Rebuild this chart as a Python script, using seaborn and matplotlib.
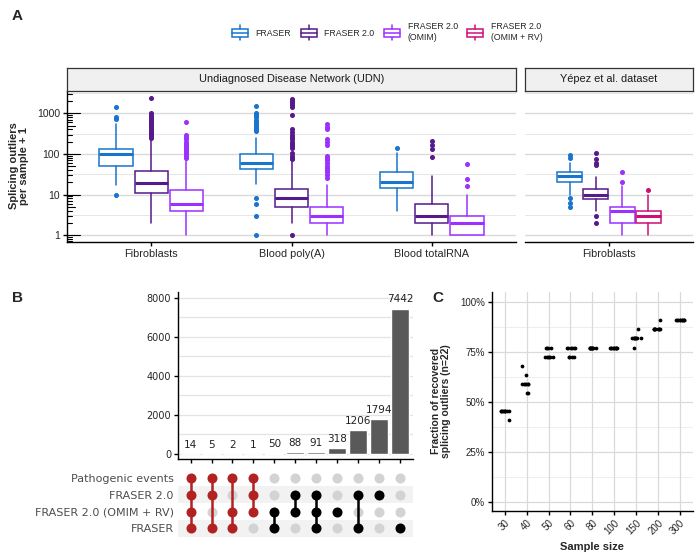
import numpy as np
import pandas as pd
import matplotlib
matplotlib.use("Agg")
import matplotlib.pyplot as plt
import matplotlib.transforms as mtransforms
import seaborn as sns
from matplotlib.legend_handler import HandlerBase
from matplotlib.patches import Rectangle, Patch
from matplotlib.lines import Line2D

# ---------------- panel A: box summaries ----------------
methods = ["FRASER", "FRASER 2.0", "FRASER 2.0\n(OMIM)", "FRASER 2.0\n(OMIM + RV)"]
method_colors = ["#1874CD", "#551A8B", "#9B30FF", "#CD1076"]

udn_tissues = ["Fibroblasts", "Blood poly(A)", "Blood totalRNA"]
yepez_tissues = ["Fibroblasts"]

# rows = tissue, cols = FRASER, FRASER 2.0, FRASER 2.0 (OMIM)
udn_med = [[100, 19, 6], [59, 8, 3], [20, 3, 2]]
udn_q1 = [[50, 11, 4], [42, 5, 2], [14.7, 2, 1]]
udn_q3 = [[135, 37, 13], [98, 14, 5], [35, 6, 3]]
udn_lo = [[17, 2, 1], [18, 2, 1], [4, 1, 1]]
udn_hi = [[540, 230, 72], [250, 66, 17.5], [107, 28, 10]]
udn_fliers = [
    [[10, 720, 800, 1400],
     [250, 270, 290, 320, 350, 380, 420, 460, 500, 550, 600, 650, 700, 780, 850, 920, 1000, 2450],
     [80, 90, 100, 110, 125, 140, 160, 180, 200, 230, 260, 290, 610]],
    [[1, 3, 6, 8, 370, 400, 450, 500, 560, 620, 700, 800, 900, 1000, 1480],
     [1, 73, 80, 90, 107, 140, 160, 180, 200, 230, 260, 300, 350, 400, 900, 1400, 1600, 1800, 2000, 2240],
     [25, 30, 35, 40, 45, 50, 60, 70, 80, 87, 170, 200, 230, 400, 450, 540]],
    [[141],
     [83, 129, 162, 206],
     [16, 24, 57]],
]

# Yepez et al. dataset, cols = all four methods
yepez_med = [[29, 10, 4, 3]]
yepez_q1 = [[20, 7.7, 2, 2]]
yepez_q3 = [[36.6, 13.6, 5, 4]]
yepez_lo = [[10, 4, 1, 1]]
yepez_hi = [[60, 26.5, 15.8, 9.5]]
yepez_fliers = [[[4.9, 6.1, 8.1, 80, 93], [2, 3, 52, 59, 76, 107], [20.6, 36], [13]]]

# ---------------- panel B: upset ----------------
set_names = ["Pathogenic events", "FRASER 2.0", "FRASER 2.0 (OMIM + RV)", "FRASER"]
intersection_counts = [14, 5, 2, 1, 50, 88, 91, 318, 1206, 1794, 7442]
intersection_sets = [
    ["Pathogenic events", "FRASER 2.0", "FRASER 2.0 (OMIM + RV)", "FRASER"],
    ["Pathogenic events", "FRASER 2.0", "FRASER"],
    ["Pathogenic events", "FRASER 2.0 (OMIM + RV)", "FRASER"],
    ["Pathogenic events", "FRASER 2.0", "FRASER 2.0 (OMIM + RV)"],
    ["FRASER 2.0 (OMIM + RV)", "FRASER"],
    ["FRASER 2.0", "FRASER 2.0 (OMIM + RV)"],
    ["FRASER 2.0", "FRASER 2.0 (OMIM + RV)", "FRASER"],
    ["FRASER 2.0 (OMIM + RV)"],
    ["FRASER 2.0", "FRASER"],
    ["FRASER 2.0"],
    ["FRASER"],
]

# ---------------- panel C: subsampling ----------------
n_total = 22
sample_sizes = ["30", "40", "50", "60", "80", "100", "150", "200", "300"]
recovered = [
    [10, 10, 10, 10, 9, 10, 10, 10, 10, 10],
    [15, 14, 13, 13, 13, 12, 13, 12, 13, 13],
    [17, 16, 17, 16, 16, 17, 16, 17, 16, 16],
    [17, 17, 16, 17, 16, 17, 16, 17, 16, 17],
    [17, 17, 17, 17, 17, 17, 17, 17, 17, 17],
    [17, 17, 17, 17, 17, 17, 17, 17, 17, 17],
    [18, 19, 18, 18, 17, 18, 18, 18, 18, 18],
    [19, 19, 20, 19, 19, 19, 19, 19, 19, 19],
    [20, 20, 20, 20, 20, 20, 20, 20, 20, 20],
]

sns.set_theme(style="white")
plt.rcParams["font.family"] = ["Liberation Sans", "DejaVu Sans"]
plt.rcParams["axes.linewidth"] = 1.0

W, H = 700, 559
fig = plt.figure(figsize=(7, 5.59), dpi=100)


def px_axes(x0, y0, x1, y1):
    return fig.add_axes([x0 / W, 1 - y1 / H, (x1 - x0) / W, (y1 - y0) / H])


def draw_boxes(ax, med, q1, q3, lo, hi, fl):
    n_cat, n_meth = len(med), len(med[0])
    dodge = 0.75 / n_meth
    for i in range(n_cat):
        for j in range(n_meth):
            pos = i + 1 + (j - (n_meth - 1) / 2) * dodge
            st = dict(med=med[i][j], q1=q1[i][j], q3=q3[i][j],
                      whislo=lo[i][j], whishi=hi[i][j], fliers=fl[i][j])
            c = method_colors[j]
            ax.bxp([st], positions=[pos], widths=dodge * 0.95, showcaps=False,
                   patch_artist=True, manage_ticks=False,
                   boxprops=dict(facecolor="white", edgecolor=c, linewidth=1.1),
                   medianprops=dict(color=c, linewidth=2.2, solid_capstyle="butt"),
                   whiskerprops=dict(color=c, linewidth=1.1),
                   flierprops=dict(marker="o", markerfacecolor=c, markeredgecolor=c,
                                   markersize=2.6, linestyle="none"))


ylo, yhi = 10 ** -0.17, 10 ** 3.55
major = [1, 10, 100, 1000]
minor_grid = [10 ** 0.5, 10 ** 1.5, 10 ** 2.5, 10 ** 3.5]


def style_box_axes(ax, cats, left):
    ax.set_yscale("log")
    ax.set_ylim(ylo, yhi)
    ax.set_xlim(0.4, len(cats) + 0.6)
    ax.set_xticks(range(1, len(cats) + 1))
    ax.set_xticklabels(cats, fontsize=7.8)
    ax.set_yticks(major)
    ax.set_yticks(minor_grid, minor=True)
    ax.yaxis.set_minor_formatter(plt.NullFormatter())
    for v in major:
        ax.axhline(v, color="#DADADA", lw=1.0, zorder=0)
    for v in minor_grid:
        ax.axhline(v, color="#E6E6E6", lw=0.7, zorder=0)
    ax.tick_params(axis="x", length=3, width=1, color="black", pad=2, bottom=True)
    ax.tick_params(axis="y", which="minor", length=0)
    ax.spines[["top", "right"]].set_visible(False)
    ax.spines["bottom"].set_color("black")
    if left:
        ax.set_yticklabels([str(v) for v in major], fontsize=7.5)
        ax.tick_params(axis="y", which="major", length=3, width=1, color="black", pad=2, left=True)
        ax.spines["left"].set_color("black")
        tr = mtransforms.blended_transform_factory(ax.transAxes, ax.transData)
        wpx = ax.get_position().width * W
        for k in range(-1, 4):
            for m in range(1, 10):
                v = m * 10 ** k
                if v < ylo or v > yhi:
                    continue
                L = 13 if m == 1 else (8 if m == 5 else 5)
                ax.plot([0, L / wpx], [v, v], transform=tr, color="black", lw=0.8, clip_on=False)
    else:
        ax.set_yticklabels([])
        ax.tick_params(axis="y", which="major", length=0)
        ax.spines["left"].set_visible(False)


axA1 = px_axes(67, 91, 516, 242)
axA2 = px_axes(525, 91, 693, 242)
draw_boxes(axA1, udn_med, udn_q1, udn_q3, udn_lo, udn_hi, udn_fliers)
draw_boxes(axA2, yepez_med, yepez_q1, yepez_q3, yepez_lo, yepez_hi, yepez_fliers)
style_box_axes(axA1, udn_tissues, True)
style_box_axes(axA2, yepez_tissues, False)

for (x0, x1, label) in [(67, 516, "Undiagnosed Disease Network (UDN)"), (525, 693, "Yépez et al. dataset")]:
    sax = px_axes(x0, 68, x1, 91)
    sax.set_facecolor("#F0F0F0")
    sax.set_xticks([])
    sax.set_yticks([])
    for s in sax.spines.values():
        s.set_color("#333333")
        s.set_linewidth(0.9)
    sax.text(0.5, 0.5, label, ha="center", va="center", fontsize=7.9, color="#1A1A1A")

fig.text(19 / W, 1 - 166 / H, "Splicing outliers\nper sample + 1", rotation=90,
         ha="center", va="center", fontsize=8, fontweight="bold", linespacing=1.0)


class BoxKey(HandlerBase):
    def create_artists(self, legend, orig_handle, xdescent, ydescent, width, height, fontsize, trans):
        c = orig_handle.get_edgecolor()
        x0, y0 = -xdescent, -ydescent
        cx = x0 + width / 2
        box = Rectangle((x0 + 0.5, y0 + height * 0.22), width - 1, height * 0.56,
                        facecolor="white", edgecolor=c, lw=1.1, transform=trans)
        med = Line2D([x0 + 0.5, x0 + width - 0.5], [y0 + height / 2] * 2, color=c, lw=1.1, transform=trans)
        w1 = Line2D([cx, cx], [y0, y0 + height * 0.22], color=c, lw=1.1, transform=trans)
        w2 = Line2D([cx, cx], [y0 + height * 0.78, y0 + height], color=c, lw=1.1, transform=trans)
        return [box, med, w1, w2]


handles = [Patch(facecolor="white", edgecolor=c) for c in method_colors]
fig.legend(handles, methods, handler_map={Patch: BoxKey()}, loc="center",
           bbox_to_anchor=(387 / W, 1 - 32 / H), ncol=4, frameon=False, fontsize=6.3,
           handlelength=2.0, handleheight=2.2, handletextpad=0.8, columnspacing=1.0,
           labelspacing=0.2)

# ---------------- panel B ----------------
axB = px_axes(178, 292, 412.5, 459)
bar_df = pd.DataFrame({"idx": range(len(intersection_counts)), "count": intersection_counts})
sns.barplot(data=bar_df, x="idx", y="count", color="#595959", saturation=1, width=0.87, ax=axB)
axB.bar_label(axB.containers[0], labels=[str(c) for c in intersection_counts], padding=3,
              fontsize=7.5, color="#222222", family="DejaVu Sans")
axB.set_xlim(-0.6, len(intersection_counts) - 0.4)
axB.set_ylim(-255, 8290)
axB.set_yticks(range(0, 8001, 2000))
axB.set_yticks(range(1000, 8000, 2000), minor=True)
axB.set_yticklabels([str(v) for v in range(0, 8001, 2000)], fontsize=7, family="DejaVu Sans")
for v in range(0, 8001, 1000):
    axB.axhline(v, color="#E3E3E3", lw=0.9, zorder=0)
axB.set_xticklabels([])
axB.set_xlabel("")
axB.set_ylabel("")
axB.tick_params(axis="both", which="major", length=3, width=1, color="black", pad=2, left=True, bottom=True)
axB.tick_params(axis="y", which="minor", length=0)
axB.spines[["top", "right"]].set_visible(False)
axB.spines[["left", "bottom"]].set_color("black")

axM = px_axes(178, 469.7, 412.5, 536.7)
axM.set_xlim(-0.6, len(intersection_counts) - 0.4)
axM.set_ylim(len(set_names) - 0.5, -0.5)
for r in range(len(set_names)):
    if r % 2 == 1:
        axM.axhspan(r - 0.5, r + 0.5, color="#F2F2F2", lw=0, zorder=0)
for i, members in enumerate(intersection_sets):
    rows = [set_names.index(s) for s in members]
    col = "#B22222" if "Pathogenic events" in members else "black"
    inactive = [r for r in range(len(set_names)) if r not in rows]
    axM.scatter([i] * len(inactive), inactive, s=52, color="#D3D3D3", lw=0, zorder=2)
    if len(rows) > 1:
        axM.plot([i, i], [min(rows), max(rows)], color=col, lw=1.8, zorder=3)
    axM.scatter([i] * len(rows), rows, s=52, color=col, lw=0, zorder=4)
axM.set_yticks(range(len(set_names)))
axM.set_yticklabels(set_names, fontsize=8, color="#4D4D4D", family="DejaVu Sans")
axM.set_xticks([])
axM.tick_params(axis="y", length=0, pad=3)
for s in axM.spines.values():
    s.set_visible(False)

# ---------------- panel C ----------------
axC = px_axes(491.7, 291.7, 693, 511)
c_df = pd.DataFrame({
    "size": [s for s, reps in zip(sample_sizes, recovered) for _ in reps],
    "frac": [n / n_total for reps in recovered for n in reps],
})
np.random.seed(3)
sns.stripplot(data=c_df, x="size", y="frac", order=sample_sizes, color="black", size=2.7,
              jitter=0.22, linewidth=0, ax=axC, zorder=3)
axC.set_xlim(-0.6, len(sample_sizes) - 0.4)
axC.set_ylim(-0.045, 1.052)
axC.set_yticks([0, 0.25, 0.5, 0.75, 1.0])
axC.set_yticklabels(["0%", "25%", "50%", "75%", "100%"], fontsize=7)
for v in [0, 0.25, 0.5, 0.75, 1.0]:
    axC.axhline(v, color="#DADADA", lw=0.9, zorder=0)
for v in [0.125, 0.375, 0.625, 0.875]:
    axC.axhline(v, color="#EBEBEB", lw=0.6, zorder=0)
for x in range(len(sample_sizes)):
    axC.axvline(x, color="#DADADA", lw=0.9, zorder=0)
axC.set_xticks(range(len(sample_sizes)))
axC.set_xticklabels(sample_sizes, fontsize=7, rotation=45, ha="right", rotation_mode="anchor")
axC.tick_params(axis="both", length=3, width=1, color="black", pad=2, left=True, bottom=True)
axC.spines[["top", "right"]].set_visible(False)
axC.spines[["left", "bottom"]].set_color("black")
axC.set_xlabel("Sample size", fontsize=8, fontweight="bold", labelpad=4)
axC.set_ylabel("")
fig.text(441 / W, 1 - 401 / H, "Fraction of recovered\nsplicing outliers (n=22)", rotation=90,
         ha="center", va="center", fontsize=7.5, fontweight="bold", linespacing=1.0)

for lab, x, y in [("A", 12, 16), ("B", 12, 298), ("C", 432, 298)]:
    fig.text(x / W, 1 - y / H, lab, fontsize=11, fontweight="bold", ha="left", va="center")

fig.savefig("out.png", dpi=100)
